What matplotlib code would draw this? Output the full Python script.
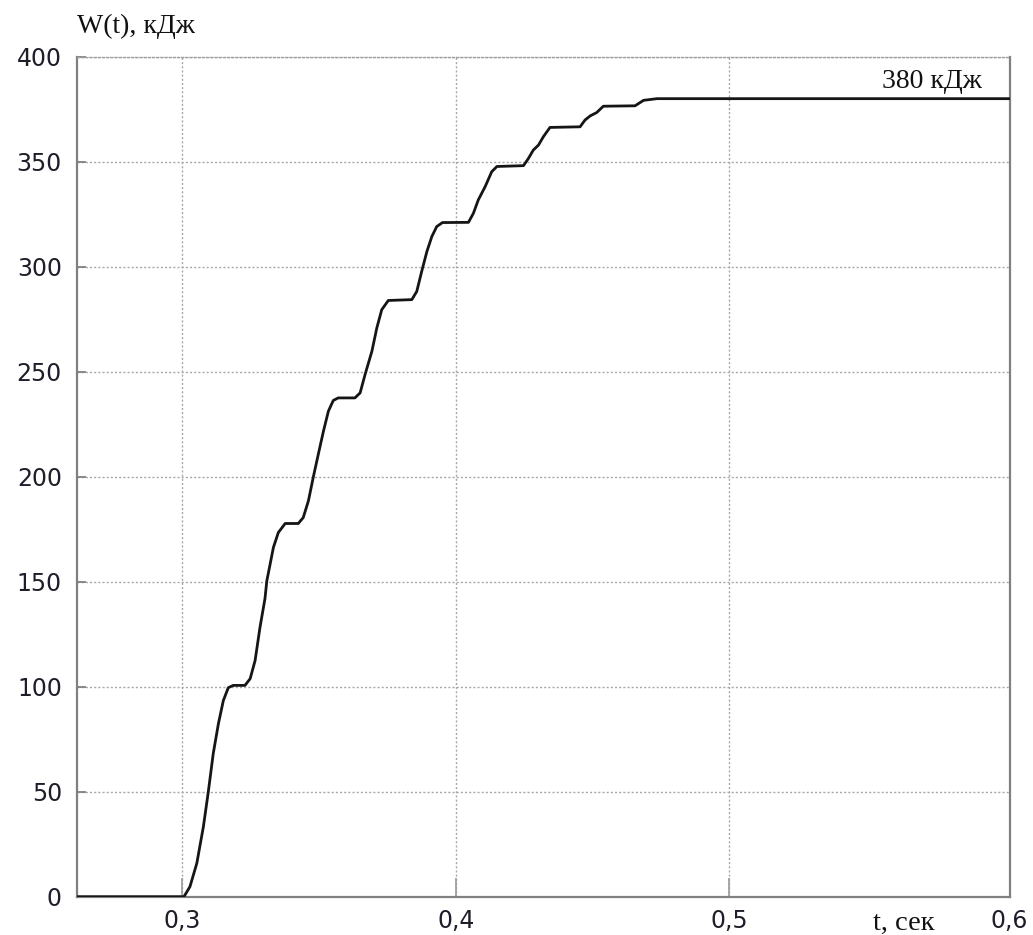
#!/usr/bin/env python3
import matplotlib
matplotlib.use('Agg')
from matplotlib import pyplot as plt

# energy W(t) accumulated during the transient
t_sec = [0.2616, 0.3006, 0.3028, 0.3053, 0.3077, 0.3095, 0.3113, 0.3132, 0.3150,
         0.3168, 0.3186, 0.3229, 0.3248, 0.3266, 0.3284, 0.3302, 0.3309, 0.3333,
         0.3351, 0.3376, 0.3424, 0.3442, 0.3461, 0.3479, 0.3497, 0.3516, 0.3534,
         0.3552, 0.3570, 0.3631, 0.3650, 0.3668, 0.3693, 0.3711, 0.3729, 0.3753,
         0.3839, 0.3857, 0.3875, 0.3894, 0.3912, 0.3930, 0.3951, 0.4046, 0.4064,
         0.4082, 0.4107, 0.4131, 0.4150, 0.4247, 0.4265, 0.4283, 0.4302, 0.4320,
         0.4344, 0.4454, 0.4472, 0.4491, 0.4515, 0.4539, 0.4655, 0.4686, 0.4735,
         0.6024]
w_kj = [0.0, 0.0, 4.8, 15.9, 33.3, 49.9, 68.1, 82.4, 93.4,
        99.5, 100.6, 100.6, 103.8, 112.4, 128.3, 141.8, 150.4, 166.3,
        173.4, 177.7, 177.7, 180.5, 188.5, 199.9, 210.6, 221.7, 231.2,
        236.3, 237.5, 237.5, 239.9, 248.6, 259.7, 270.8, 279.5, 283.9,
        284.3, 288.2, 297.7, 307.2, 314.3, 319.1, 321.0, 321.1, 325.4,
        331.8, 338.1, 345.2, 347.7, 348.1, 351.5, 355.5, 357.9, 361.9,
        366.3, 366.6, 369.8, 371.8, 373.4, 376.4, 376.6, 379.2, 380.0,
        380.0]

x_ticks = [0.3, 0.4, 0.5, 0.6024]
x_tick_labels = ['0,3', '0,4', '0,5', '0,6']
y_ticks = [0, 50, 100, 150, 200, 250, 300, 350, 400]
w_final = 380

serif = ['Liberation Serif', 'DejaVu Serif']
sans = ['DejaVu Sans']
grey = '#808080'

fig = plt.figure(figsize=(10.33, 9.35), dpi=100)
ax = fig.add_axes([0.0748, 0.041, 0.9025, 0.8984])

ax.plot(t_sec, w_kj, color='#151515', lw=2.0, solid_joinstyle='round',
        solid_capstyle='round', zorder=3)

ax.set_xlim(0.2616, 0.6024)
ax.set_ylim(0, 400)
ax.set_xticks(x_ticks)
ax.set_xticklabels(x_tick_labels)
ax.set_yticks(y_ticks)
ax.set_yticklabels([str(v) for v in y_ticks])

for lbl in ax.get_xticklabels() + ax.get_yticklabels():
    lbl.set_family(sans)
    lbl.set_fontsize(17)
    lbl.set_color('#1e1e2a')

ax.tick_params(axis='y', direction='in', length=6.5, width=1.3, color=grey, pad=11)
ax.tick_params(axis='x', direction='in', length=13.5, width=1.3, color='#a0a0a0', pad=9)

ax.grid(True, color='#a8a8a8', lw=1.0, linestyle=(0, (1.5, 1.5)))

for side in ['left', 'bottom', 'right']:
    ax.spines[side].set_color(grey)
    ax.spines[side].set_linewidth(1.6)
ax.spines['top'].set_color('#a0a0a0')
ax.spines['top'].set_linewidth(1.0)
ax.spines['top'].set_linestyle((0, (1.5, 1.5)))

# axis captions and the steady-state value
fig.text(0.0748, 1 - 33 / 935, 'W(t), кДж', family=serif, fontsize=20,
         color='#111111', ha='left', va='baseline')
fig.text(873 / 1033, 1 - 930 / 935, 't, сек', family=serif, fontsize=20.5,
         color='#111111', ha='left', va='baseline')
ax.text(0.5924, w_final + 5, '{} кДж'.format(w_final), family=serif, fontsize=20,
        color='#111111', ha='right', va='baseline')

plt.savefig('out.png', dpi=100)
